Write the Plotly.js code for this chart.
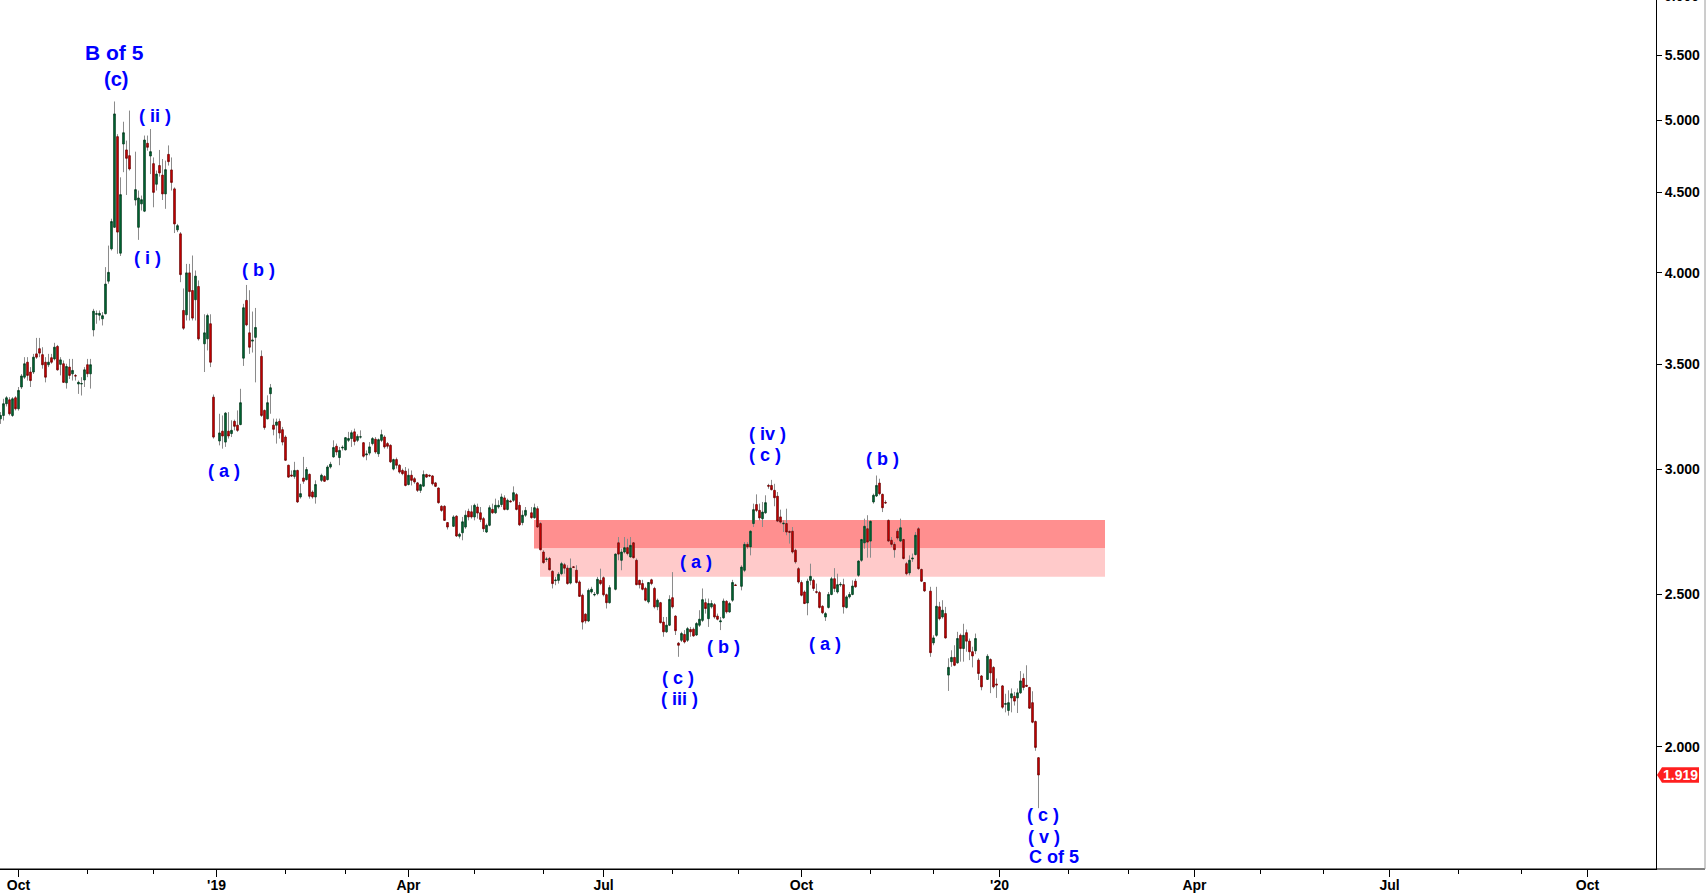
<!DOCTYPE html>
<html>
<head>
<meta charset="utf-8">
<script src="https://cdn.plot.ly/plotly-3.0.1.min.js"></script>
<style>html,body{margin:0;padding:0;background:#fff;}#chart{width:1707px;height:893px;}</style>
</head>
<body>
<div id="chart"></div>
<script>
// ---------- DATA ----------
const dates = [
"2018-09-21","2018-09-24","2018-09-25","2018-09-26","2018-09-27","2018-09-28",
"2018-10-01","2018-10-02","2018-10-03","2018-10-04","2018-10-05","2018-10-08","2018-10-09","2018-10-10","2018-10-11","2018-10-12",
"2018-10-15","2018-10-16","2018-10-17","2018-10-18","2018-10-19","2018-10-22","2018-10-23","2018-10-24","2018-10-25","2018-10-26",
"2018-10-29","2018-10-30","2018-10-31","2018-11-01","2018-11-02","2018-11-05","2018-11-06","2018-11-07","2018-11-08","2018-11-09",
"2018-11-12","2018-11-13","2018-11-14","2018-11-15","2018-11-16","2018-11-19","2018-11-20","2018-11-21","2018-11-23",
"2018-11-26","2018-11-27","2018-11-28","2018-11-29","2018-11-30","2018-12-03","2018-12-04","2018-12-05","2018-12-06","2018-12-07",
"2018-12-10","2018-12-11","2018-12-12","2018-12-13","2018-12-14","2018-12-17","2018-12-18","2018-12-19","2018-12-20","2018-12-21",
"2018-12-24","2018-12-26","2018-12-27","2018-12-28","2018-12-31",
"2019-01-02","2019-01-03","2019-01-04","2019-01-07","2019-01-08","2019-01-09","2019-01-10","2019-01-11",
"2019-01-14","2019-01-15","2019-01-16","2019-01-17","2019-01-18","2019-01-22","2019-01-23","2019-01-24","2019-01-25",
"2019-01-28","2019-01-29","2019-01-30","2019-01-31","2019-02-01","2019-02-04","2019-02-05","2019-02-06","2019-02-07","2019-02-08",
"2019-02-11","2019-02-12","2019-02-13","2019-02-14","2019-02-15","2019-02-19","2019-02-20","2019-02-21","2019-02-22",
"2019-02-25","2019-02-26","2019-02-27","2019-02-28","2019-03-01","2019-03-04","2019-03-05","2019-03-06","2019-03-07","2019-03-08",
"2019-03-11","2019-03-12","2019-03-13","2019-03-14","2019-03-15","2019-03-18","2019-03-19","2019-03-20","2019-03-21","2019-03-22",
"2019-03-25","2019-03-26","2019-03-27","2019-03-28","2019-03-29","2019-04-01","2019-04-02","2019-04-03","2019-04-04","2019-04-05",
"2019-04-08","2019-04-09","2019-04-10","2019-04-11","2019-04-12","2019-04-15","2019-04-16","2019-04-17","2019-04-18",
"2019-04-22","2019-04-23","2019-04-24","2019-04-25","2019-04-26","2019-04-29","2019-04-30","2019-05-01","2019-05-02","2019-05-03",
"2019-05-06","2019-05-07","2019-05-08","2019-05-09","2019-05-10","2019-05-13","2019-05-14","2019-05-15","2019-05-16","2019-05-17",
"2019-05-20","2019-05-21","2019-05-22","2019-05-23","2019-05-24","2019-05-28","2019-05-29","2019-05-30","2019-05-31",
"2019-06-03","2019-06-04","2019-06-05","2019-06-06","2019-06-07","2019-06-10","2019-06-11","2019-06-12","2019-06-13","2019-06-14",
"2019-06-17","2019-06-18","2019-06-19","2019-06-20","2019-06-21","2019-06-24","2019-06-25","2019-06-26","2019-06-27","2019-06-28",
"2019-07-01","2019-07-02","2019-07-03","2019-07-05","2019-07-08","2019-07-09","2019-07-10","2019-07-11","2019-07-12",
"2019-07-15","2019-07-16","2019-07-17","2019-07-18","2019-07-19","2019-07-22","2019-07-23","2019-07-24","2019-07-25","2019-07-26",
"2019-07-29","2019-07-30","2019-07-31","2019-08-01","2019-08-02","2019-08-05","2019-08-06","2019-08-07","2019-08-08","2019-08-09",
"2019-08-12","2019-08-13","2019-08-14","2019-08-15","2019-08-16","2019-08-19","2019-08-20","2019-08-21","2019-08-22","2019-08-23",
"2019-08-26","2019-08-27","2019-08-28","2019-08-29","2019-08-30","2019-09-03","2019-09-04","2019-09-05","2019-09-06",
"2019-09-09","2019-09-10","2019-09-11","2019-09-12","2019-09-13","2019-09-16","2019-09-17","2019-09-18","2019-09-19","2019-09-20",
"2019-09-23","2019-09-24","2019-09-25","2019-09-26","2019-09-27","2019-09-30","2019-10-01","2019-10-02","2019-10-03","2019-10-04",
"2019-10-07","2019-10-08","2019-10-09","2019-10-10","2019-10-11","2019-10-14","2019-10-15","2019-10-16","2019-10-17","2019-10-18",
"2019-10-21","2019-10-22","2019-10-23","2019-10-24","2019-10-25","2019-10-28","2019-10-29","2019-10-30","2019-10-31","2019-11-01",
"2019-11-04","2019-11-05","2019-11-06","2019-11-07","2019-11-08","2019-11-11","2019-11-12","2019-11-13","2019-11-14","2019-11-15",
"2019-11-18","2019-11-19","2019-11-20","2019-11-21","2019-11-22","2019-11-25","2019-11-26","2019-11-27","2019-11-29",
"2019-12-02","2019-12-03","2019-12-04","2019-12-05","2019-12-06","2019-12-09","2019-12-10","2019-12-11","2019-12-12","2019-12-13",
"2019-12-16","2019-12-17","2019-12-18","2019-12-19","2019-12-20","2019-12-23","2019-12-24","2019-12-26","2019-12-27",
"2019-12-30","2019-12-31","2020-01-02","2020-01-03","2020-01-06","2020-01-07","2020-01-08","2020-01-09","2020-01-10",
"2020-01-13","2020-01-14","2020-01-15","2020-01-16","2020-01-17","2020-01-20"
];
const openP = [
3.231,3.247,3.303,3.322,3.247,3.332,
3.279,3.385,3.434,3.510,3.460,3.460,3.553,3.580,3.549,3.510,
3.497,3.533,3.527,3.592,3.499,3.502,3.406,3.485,3.451,3.442,
3.400,3.400,3.420,3.497,3.451,3.680,3.765,3.760,3.740,3.768,
3.952,4.143,4.276,4.882,4.117,4.830,4.788,4.748,4.450,
4.276,4.425,4.378,4.835,4.746,4.693,4.554,4.680,4.615,4.490,
4.757,4.650,4.523,4.260,4.235,3.786,3.762,4.000,3.898,3.846,
3.921,3.606,3.632,3.713,3.335,
3.128,3.173,3.123,3.173,3.162,3.219,3.201,3.204,
3.531,3.842,3.664,3.620,3.640,3.540,3.271,3.231,3.352,
3.201,3.201,3.219,3.180,3.146,3.019,2.976,2.970,2.996,2.882,
2.963,2.956,2.979,2.903,2.882,2.953,2.970,2.956,3.011,
3.056,3.104,3.053,3.096,3.088,3.131,3.139,3.170,3.131,3.146,
3.120,3.065,3.073,3.116,3.136,3.070,3.131,3.146,3.116,3.108,
3.002,3.044,3.019,2.996,2.993,2.935,2.975,2.960,2.942,2.910,
2.928,2.978,2.975,2.972,2.942,2.920,2.843,2.843,2.776,
2.761,2.802,2.721,2.735,2.758,2.822,2.820,2.799,2.840,2.816,
2.792,2.738,2.765,2.830,2.816,2.840,2.850,2.878,2.830,2.865,
2.868,2.892,2.847,2.776,2.806,2.816,2.796,2.833,2.772,
2.659,2.630,2.634,2.585,2.550,2.551,2.576,2.610,2.597,2.541,
2.602,2.589,2.545,2.496,2.428,2.404,2.508,2.497,2.502,2.551,
2.561,2.498,2.469,2.518,2.695,2.627,2.659,2.676,2.640,
2.695,2.627,2.551,2.539,2.521,2.472,2.553,2.521,2.454,2.469,
2.400,2.366,2.389,2.487,2.421,2.327,2.337,2.357,2.337,2.374,
2.375,2.355,2.389,2.406,2.469,2.412,2.454,2.462,2.421,2.401,
2.415,2.474,2.436,2.478,2.534,2.529,2.589,2.689,2.679,
2.772,2.850,2.826,2.792,2.816,2.931,2.931,2.910,2.885,2.799,
2.771,2.772,2.740,2.741,2.666,2.595,2.543,2.508,2.468,2.551,
2.551,2.509,2.506,2.456,2.418,2.452,2.499,2.557,2.508,2.534,
2.535,2.452,2.490,2.499,2.548,2.570,2.627,2.695,2.751,2.702,
2.861,2.886,2.941,2.893,2.859,2.785,2.705,2.689,2.741,2.702,
2.708,2.614,2.579,2.632,2.649,2.751,2.592,2.543,2.511,
2.328,2.354,2.454,2.418,2.430,2.221,2.265,2.279,2.261,2.354,
2.309,2.363,2.334,2.298,2.301,2.270,2.218,2.207,2.272,
2.246,2.192,2.186,2.128,2.109,2.148,2.153,2.148,2.164,
2.210,2.188,2.181,2.133,2.075,1.968
];
const highP = [
3.263,3.327,3.340,3.335,3.335,3.340,
3.385,3.450,3.536,3.536,3.485,3.553,3.637,3.637,3.588,3.536,
3.553,3.553,3.611,3.600,3.536,3.519,3.502,3.527,3.527,3.450,
3.417,3.434,3.485,3.527,3.527,3.795,3.786,3.786,3.777,4.034,
4.163,4.330,5.140,4.900,4.600,4.990,4.854,5.072,4.776,
4.512,4.479,4.890,4.890,4.937,4.736,4.646,4.788,4.725,4.714,
4.820,4.736,4.533,4.297,4.246,3.910,4.053,4.053,4.103,4.014,
3.956,3.765,3.768,3.765,3.348,
3.255,3.247,3.263,3.263,3.224,3.227,3.271,3.376,
3.823,3.930,3.900,3.780,3.800,3.571,3.275,3.344,3.400,
3.232,3.232,3.232,3.193,3.154,3.020,2.996,3.034,2.999,2.938,
3.056,3.011,2.982,2.910,2.953,2.982,2.975,3.019,3.034,
3.131,3.116,3.101,3.108,3.146,3.170,3.177,3.185,3.159,3.177,
3.123,3.085,3.123,3.146,3.146,3.139,3.180,3.154,3.123,3.113,
3.048,3.053,3.023,3.004,3.011,3.004,2.996,2.967,2.946,2.938,
2.996,2.982,2.978,2.975,2.946,2.921,2.847,2.847,2.778,
2.806,2.806,2.735,2.799,2.826,2.833,2.847,2.854,2.854,2.840,
2.799,2.772,2.847,2.854,2.875,2.868,2.896,2.889,2.875,2.870,
2.927,2.899,2.861,2.826,2.840,2.840,2.854,2.843,2.778,
2.666,2.640,2.640,2.589,2.564,2.582,2.621,2.617,2.608,2.634,
2.605,2.608,2.551,2.502,2.430,2.521,2.527,2.508,2.564,2.595,
2.566,2.502,2.533,2.653,2.718,2.672,2.718,2.711,2.718,
2.698,2.634,2.553,2.553,2.527,2.545,2.557,2.527,2.484,2.472,
2.418,2.418,2.496,2.582,2.424,2.331,2.366,2.372,2.383,2.383,
2.381,2.400,2.442,2.521,2.484,2.484,2.478,2.468,2.430,2.418,
2.484,2.478,2.472,2.553,2.538,2.608,2.698,2.698,2.745,
2.854,2.893,2.854,2.861,2.889,2.938,2.955,2.938,2.903,2.829,
2.785,2.833,2.745,2.758,2.672,2.601,2.551,2.514,2.557,2.614,
2.557,2.539,2.512,2.460,2.436,2.508,2.564,2.597,2.576,2.545,
2.557,2.496,2.508,2.551,2.557,2.627,2.711,2.792,2.806,2.785,
2.896,2.974,2.960,2.896,2.868,2.788,2.718,2.698,2.751,2.792,
2.711,2.621,2.646,2.653,2.738,2.758,2.595,2.545,2.527,
2.354,2.527,2.472,2.478,2.454,2.276,2.303,2.320,2.366,2.360,
2.394,2.374,2.343,2.315,2.360,2.276,2.221,2.290,2.276,
2.250,2.210,2.189,2.161,2.172,2.178,2.167,2.178,2.234,
2.226,2.253,2.183,2.169,2.078,1.968
];
const lowP = [
3.207,3.223,3.290,3.247,3.240,3.271,
3.270,3.375,3.425,3.417,3.385,3.450,3.527,3.536,3.477,3.408,
3.485,3.502,3.519,3.468,3.443,3.406,3.377,3.425,3.417,3.417,
3.351,3.343,3.385,3.434,3.377,3.645,3.713,3.731,3.704,3.765,
3.937,4.133,4.276,4.113,4.100,4.635,4.483,4.646,4.414,
4.198,4.382,4.372,4.783,4.622,4.403,4.512,4.605,4.450,4.393,
4.680,4.512,4.240,4.246,3.946,3.680,3.731,3.731,3.731,3.731,
3.623,3.460,3.571,3.485,3.139,
3.108,3.093,3.101,3.139,3.146,3.177,3.170,3.201,
3.491,3.700,3.553,3.560,3.408,3.240,3.180,3.230,3.255,
3.154,3.116,3.139,3.108,3.038,2.964,2.970,2.960,2.857,2.875,
2.938,2.953,2.875,2.875,2.854,2.946,2.946,2.953,3.004,
3.053,3.063,3.019,3.085,3.085,3.123,3.101,3.108,3.123,3.139,
3.053,3.041,3.063,3.108,3.070,3.056,3.123,3.093,3.093,3.029,
2.996,3.004,2.982,2.975,2.927,2.931,2.931,2.938,2.903,2.899,
2.924,2.964,2.968,2.931,2.924,2.854,2.820,2.783,2.748,
2.758,2.718,2.712,2.705,2.751,2.785,2.792,2.785,2.792,2.778,
2.738,2.734,2.761,2.812,2.812,2.833,2.840,2.826,2.826,2.860,
2.861,2.826,2.762,2.765,2.799,2.792,2.792,2.756,2.666,
2.614,2.621,2.589,2.521,2.533,2.539,2.570,2.576,2.535,2.536,
2.598,2.539,2.490,2.374,2.395,2.400,2.502,2.492,2.496,2.533,
2.492,2.448,2.466,2.514,2.627,2.589,2.653,2.646,2.637,
2.634,2.533,2.521,2.514,2.474,2.466,2.533,2.448,2.442,2.395,
2.349,2.363,2.386,2.448,2.355,2.281,2.331,2.326,2.331,2.349,
2.349,2.352,2.383,2.400,2.430,2.383,2.448,2.412,2.406,2.372,
2.412,2.430,2.433,2.472,2.530,2.514,2.582,2.672,2.646,
2.758,2.819,2.785,2.758,2.812,2.917,2.910,2.843,2.778,2.772,
2.738,2.725,2.692,2.653,2.614,2.539,2.492,2.464,2.424,2.533,
2.512,2.502,2.448,2.428,2.404,2.448,2.496,2.508,2.502,2.527,
2.430,2.448,2.484,2.496,2.524,2.564,2.621,2.672,2.637,2.637,
2.854,2.882,2.889,2.819,2.854,2.698,2.679,2.637,2.705,2.698,
2.630,2.570,2.570,2.621,2.646,2.591,2.545,2.508,2.281,
2.320,2.349,2.406,2.412,2.343,2.170,2.248,2.250,2.259,2.265,
2.265,2.298,2.270,2.246,2.290,2.205,2.172,2.205,2.163,
2.178,2.148,2.114,2.103,2.093,2.103,2.124,2.101,2.161,
2.172,2.183,2.114,2.070,1.988,1.828
];
const closeP = [
3.247,3.303,3.332,3.255,3.327,3.279,
3.368,3.440,3.502,3.443,3.417,3.536,3.536,3.557,3.497,3.434,
3.510,3.510,3.588,3.471,3.522,3.408,3.488,3.443,3.468,3.440,
3.408,3.402,3.471,3.451,3.497,3.782,3.768,3.770,3.757,3.935,
4.003,4.312,5.047,4.246,4.485,4.910,4.730,4.657,4.518,
4.463,4.452,4.858,4.807,4.776,4.500,4.622,4.630,4.490,4.652,
4.707,4.566,4.297,4.286,3.990,3.689,4.000,3.892,3.744,3.981,
3.632,3.664,3.758,3.510,3.146,
3.165,3.151,3.258,3.151,3.177,3.196,3.177,3.308,
3.801,3.707,3.588,3.625,3.693,3.247,3.190,3.308,3.381,
3.182,3.216,3.165,3.123,3.041,2.967,2.972,2.996,2.861,2.896,
2.949,3.000,2.885,2.882,2.935,2.975,2.949,3.011,3.023,
3.098,3.078,3.085,3.099,3.143,3.139,3.166,3.126,3.149,3.147,
3.059,3.069,3.101,3.139,3.078,3.134,3.157,3.101,3.104,3.034,
3.044,3.019,2.989,2.982,2.931,2.975,2.953,2.946,2.910,2.934,
2.978,2.967,2.972,2.938,2.927,2.858,2.826,2.785,2.758,
2.799,2.722,2.729,2.779,2.806,2.799,2.799,2.847,2.815,2.789,
2.751,2.765,2.837,2.816,2.847,2.847,2.882,2.830,2.868,2.862,
2.900,2.830,2.767,2.806,2.826,2.796,2.837,2.758,2.668,
2.618,2.632,2.591,2.539,2.552,2.574,2.614,2.597,2.539,2.597,
2.600,2.543,2.492,2.400,2.404,2.514,2.518,2.499,2.555,2.539,
2.498,2.469,2.524,2.651,2.651,2.659,2.676,2.653,2.685,
2.637,2.535,2.535,2.518,2.478,2.543,2.539,2.454,2.478,2.398,
2.366,2.389,2.481,2.454,2.370,2.320,2.360,2.331,2.377,2.366,
2.352,2.395,2.410,2.480,2.448,2.466,2.466,2.418,2.410,2.404,
2.475,2.436,2.466,2.543,2.532,2.601,2.689,2.679,2.741,
2.829,2.826,2.795,2.819,2.858,2.928,2.913,2.879,2.782,2.778,
2.773,2.738,2.737,2.659,2.621,2.545,2.496,2.466,2.548,2.566,
2.521,2.507,2.452,2.433,2.430,2.499,2.557,2.521,2.535,2.536,
2.454,2.490,2.499,2.530,2.527,2.624,2.708,2.761,2.698,2.781,
2.889,2.931,2.896,2.837,2.857,2.702,2.689,2.668,2.714,2.755,
2.634,2.576,2.627,2.635,2.725,2.595,2.548,2.512,2.295,
2.345,2.456,2.412,2.442,2.345,2.246,2.279,2.253,2.343,2.309,
2.354,2.334,2.298,2.284,2.343,2.226,2.183,2.283,2.228,
2.183,2.189,2.119,2.130,2.133,2.161,2.138,2.164,2.202,
2.181,2.185,2.116,2.073,1.998,1.919
];

// axis ticks
const quarterTicks = ["2018-10-01","2019-01-01","2019-04-01","2019-07-01","2019-10-01","2020-01-01","2020-04-01","2020-07-01","2020-10-01"];
const quarterLabels = ["Oct","'19","Apr","Jul","Oct","'20","Apr","Jul","Oct"];
const monthTicks = ["2018-11-01","2018-12-03","2019-02-01","2019-03-01","2019-05-01","2019-06-03","2019-08-01","2019-09-02",
  "2019-11-01","2019-12-02","2020-02-03","2020-03-02","2020-05-01","2020-06-01","2020-08-03","2020-09-01"];
const priceTicks = [2.0,2.5,3.0,3.5,4.0,4.5,5.0,5.5,6.0];

// resistance zone (dark upper band, light lower band)
const zoneStart = ["2019-05-28 20:00","2019-05-30 20:00"];
const zoneEnd = "2020-02-19 04:00";
const zoneLevels = [2.5646, 2.673, 2.7865];

// wave labels
const waveText = ["B of 5","(c)","( ii )","( i )","( b )","( a )","( iv )","( c )","( b )","( a )","( b )","( a )","( c )","( iii )","( c )","( v )","C of 5"];

// ---------- CHART ----------
const FONT = "Liberation Sans, Arial, sans-serif";
const PLOT_H = 869;
const Y_RANGE = [0.22333, 0.77543];
const bodyHigh = openP.map((o,i)=>Math.max(o,closeP[i]));
const bodyLow  = openP.map((o,i)=>Math.min(o,closeP[i]));
const lastClose = closeP[closeP.length-1];

const wicks = {
  type:'candlestick', x:dates, open:openP, high:highP, low:lowP, close:closeP,
  increasing:{line:{color:'#8a8a8a',width:1}, fillcolor:'rgba(0,0,0,0)'},
  decreasing:{line:{color:'#8a8a8a',width:1}, fillcolor:'rgba(0,0,0,0)'},
  whiskerwidth:0, hoverinfo:'skip', showlegend:false
};
const bodies = {
  type:'candlestick', x:dates, open:openP, high:bodyHigh, low:bodyLow, close:closeP,
  increasing:{line:{color:'#003f1f',width:0.8}, fillcolor:'#00773b'},
  decreasing:{line:{color:'#7a0000',width:0.8}, fillcolor:'#e60000'},
  whiskerwidth:0, hoverinfo:'skip', showlegend:false
};

// label placement (paper coords of plot area)
const labelPos = [
  [0.0694,0.9396,21],[0.0698,0.9091,20],[0.0936,0.8662,18],[0.0888,0.7031,18],[0.1559,0.6891,18],[0.1355,0.4580,18],
  [0.4632,0.5010,18],[0.4618,0.4760,18],[0.5329,0.4723,18],[0.4200,0.3535,18],[0.4366,0.2549,18],[0.4979,0.2589,18],
  [0.4092,0.2203,18],[0.4105,0.1952,18],[0.6301,0.0627,18],[0.6302,0.0373,18],[0.6362,0.0134,18]
];
const annotations = waveText.map((t,i)=>({
  text:t, xref:'paper', yref:'paper', x:labelPos[i][0], y:labelPos[i][1],
  xanchor:'center', yanchor:'middle', showarrow:false,
  font:{family:FONT, size:labelPos[i][2], color:'#0000ff', weight:'bold'}
}));
// last price tag text
annotations.push({
  text:lastClose.toFixed(3), xref:'paper', yref:'y', x:1, y:Math.log10(lastClose),
  xshift:24, xanchor:'center', yanchor:'middle', showarrow:false,
  font:{family:FONT, size:14, color:'#ffffff', weight:'bold'}
});
// top tick label that is cut by the upper edge in the reference
const topTick = priceTicks[priceTicks.length-1];
annotations.push({
  text:topTick.toFixed(3), xref:'paper', yref:'paper', x:1,
  y:(Math.log10(topTick)-Y_RANGE[0])/(Y_RANGE[1]-Y_RANGE[0]),
  xshift:6, xanchor:'left', yanchor:'middle', showarrow:false,
  font:{family:FONT, size:14, color:'#000', weight:'bold'}
});

const EXT = 1705/1656;
const shapes = [
  {type:'rect', layer:'below', xref:'x', yref:'y', x0:zoneStart[0], x1:zoneEnd, y0:zoneLevels[1], y1:zoneLevels[2],
   fillcolor:'#ff8f8f', line:{width:0}},
  {type:'rect', layer:'below', xref:'x', yref:'y', x0:zoneStart[1], x1:zoneEnd, y0:zoneLevels[0], y1:zoneLevels[1],
   fillcolor:'#ffcaca', line:{width:0}},
  {type:'line', xref:'paper', yref:'paper', x0:0, x1:EXT, y0:0, y1:0, line:{color:'#000', width:1}},
  {type:'line', xref:'paper', yref:'paper', x0:EXT, x1:EXT, y0:0, y1:1, line:{color:'#9a9a9a', width:1}},
  {type:'line', xref:'paper', yref:'paper', x0:1+5/1656, x1:1, y0:(Math.log10(topTick)-Y_RANGE[0])/(Y_RANGE[1]-Y_RANGE[0]),
   y1:(Math.log10(topTick)-Y_RANGE[0])/(Y_RANGE[1]-Y_RANGE[0]), line:{color:'#000', width:1}},
  {type:'path', xref:'paper', yref:'y', xsizemode:'pixel', ysizemode:'pixel', xanchor:1, yanchor:lastClose,
   path:'M1,0 L6,7.8 L43,7.8 L43,-7.8 L6,-7.8 Z', fillcolor:'#ff1f1f', line:{width:0}}
];
// longer quarter tick marks below the axis
quarterTicks.forEach(d=>shapes.push({type:'line', xref:'x', yref:'paper', x0:d, x1:d, y0:0, y1:-8/PLOT_H,
  line:{color:'#000', width:1}}));

const layout = {
  width:1707, height:893,
  margin:{l:0, r:51, t:0, b:24, pad:0},
  paper_bgcolor:'#ffffff', plot_bgcolor:'#ffffff',
  showlegend:false, dragmode:false,
  xaxis:{
    type:'date', range:['2018-09-20 20:00','2020-11-02 20:00'],
    rangebreaks:[{bounds:['sat','mon']}],
    rangeslider:{visible:false},
    showgrid:false, zeroline:false, showline:true, linecolor:'#000', linewidth:1,
    ticks:'outside', ticklen:3, tickcolor:'#000', tickwidth:1,
    tickmode:'array', tickvals:quarterTicks, ticktext:quarterLabels,
    tickfont:{family:FONT, size:14, color:'#000', weight:'bold'},
    minor:{tickmode:'array', tickvals:monthTicks, ticks:'outside', ticklen:4, tickcolor:'#000', tickwidth:1, showgrid:false}
  },
  yaxis:{
    type:'log', range:Y_RANGE, side:'right',
    showgrid:false, zeroline:false, showline:true, linecolor:'#000', linewidth:1,
    ticks:'outside', ticklen:5, tickcolor:'#000',
    tickmode:'array', tickvals:priceTicks, ticktext:priceTicks.map(v=>v.toFixed(3)),
    tickfont:{family:FONT, size:14, color:'#000', weight:'bold'}
  },
  shapes:shapes,
  annotations:annotations
};

Plotly.newPlot('chart', [wicks, bodies], layout, {displayModeBar:false, staticPlot:true});
</script>
</body>
</html>
